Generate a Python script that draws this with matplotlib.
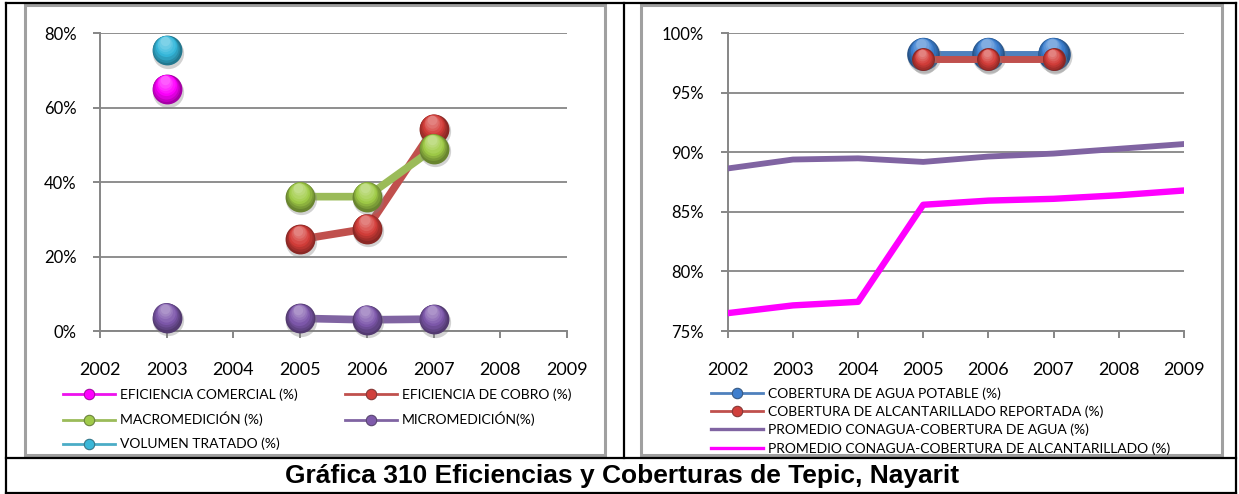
import numpy as np
import matplotlib
matplotlib.use("Agg")
import matplotlib.pyplot as plt
import matplotlib.colors as mcolors
from matplotlib.lines import Line2D
from matplotlib.patches import Rectangle
from matplotlib.transforms import offset_copy
from matplotlib.ticker import FuncFormatter
import colorsys

# ---------------- data ----------------
years = [2002, 2003, 2004, 2005, 2006, 2007, 2008, 2009]
nan = np.nan
# left chart (fractions)
eficiencia_comercial = [nan, 0.65, nan, nan, nan, nan, nan, nan]
eficiencia_cobro = [nan, nan, nan, 0.246, 0.275, 0.543, nan, nan]
macromedicion = [nan, nan, nan, 0.361, 0.361, 0.490, nan, nan]
micromedicion = [nan, 0.036, nan, 0.034, 0.030, 0.032, nan, nan]
volumen_tratado = [nan, 0.755, nan, nan, nan, nan, nan, nan]
left_labels = ["EFICIENCIA COMERCIAL (%)", "EFICIENCIA DE COBRO (%)",
               "MACROMEDICIÓN (%)", "MICROMEDICIÓN(%)", "VOLUMEN TRATADO (%)"]
left_yticks = [0.0, 0.2, 0.4, 0.6, 0.8]

# right chart (fractions)
cobertura_agua = [nan, nan, nan, 0.983, 0.983, 0.983, nan, nan]
cobertura_alcant = [nan, nan, nan, 0.978, 0.978, 0.978, nan, nan]
promedio_agua = [0.8865, 0.894, 0.895, 0.892, 0.8965, 0.899, 0.903, 0.907]
promedio_alcant = [0.765, 0.7715, 0.7745, 0.856, 0.8595, 0.861, 0.864, 0.868]
right_labels = ["COBERTURA DE AGUA POTABLE (%)",
                "COBERTURA DE ALCANTARILLADO REPORTADA (%)",
                "PROMEDIO CONAGUA-COBERTURA DE AGUA (%)",
                "PROMEDIO CONAGUA-COBERTURA DE ALCANTARILLADO (%)"]
right_yticks = [0.75, 0.80, 0.85, 0.90, 0.95, 1.00]

title = "Gráfica 310 Eficiencias y Coberturas de Tepic, Nayarit"

# ---------------- style ----------------
C_MAG = "#FF00FF"
C_RED = "#C0504D"
C_GRN = "#9BBB59"
C_PUR = "#8064A2"
C_CYN = "#4BACC6"
C_BLU = "#4F81BD"
GRAY = "#868686"
TICKFONT = "Lato"

W, H = 1239, 494
fig = plt.figure(figsize=(W / 100, H / 100), dpi=100)


def fx(px):
    return px / W


def fy(py):
    return 1 - py / H


def mix(c1, c2, t):
    a = np.array(mcolors.to_rgb(c1))
    b = np.array(mcolors.to_rgb(c2))
    return tuple(np.clip(a * (1 - t) + b * t, 0, 1))


def saturate(c, f):
    h, l, s = colorsys.rgb_to_hls(*mcolors.to_rgb(c))
    return colorsys.hls_to_rgb(h, l, min(1, s * f))


def sphere(ax, xs, ys, color, ms, z):
    xs = np.asarray(xs, float)
    ys = np.asarray(ys, float)
    body = saturate(color, 1.35)
    shadow = offset_copy(ax.transData, fig=fig, x=1.0, y=-2.5, units="dots")
    ax.plot(xs, ys, "o", ms=ms + 1, color="#808080", alpha=0.35, mec="none",
            transform=shadow, zorder=z, clip_on=False)
    ax.plot(xs, ys, "o", ms=ms, color=mix(body, "black", 0.35), mec="none",
            zorder=z + 0.01, clip_on=False)
    n = 8
    for i in range(1, n):
        t = i / n
        size = ms * (1 - 0.78 * t)
        dy = ms * 0.33 * t * 100 / 72
        tr = offset_copy(ax.transData, fig=fig, x=-0.2 * dy, y=dy, units="dots")
        if t < 0.4:
            col = mix(body, "black", 0.35 * (1 - t / 0.4))
        else:
            col = mix(body, "white", (t - 0.4) * 0.75)
        ax.plot(xs, ys, "o", ms=size, color=col, mec="none", transform=tr,
                zorder=z + 0.02 * i, clip_on=False)


def setup_axes(ax, ylim, yticks):
    ax.set_xlim(2002, 2009)
    ax.set_ylim(*ylim)
    ax.set_xticks(years)
    ax.set_yticks(yticks)
    ax.yaxis.set_major_formatter(FuncFormatter(lambda v, p: f"{v * 100:.0f}%"))
    for s in ["top", "right"]:
        ax.spines[s].set_visible(False)
    for s in ["left", "bottom"]:
        ax.spines[s].set_color(GRAY)
        ax.spines[s].set_linewidth(1.4)
    ax.grid(axis="y", color=GRAY, lw=1.3)
    ax.set_axisbelow(True)
    ax.tick_params(axis="x", direction="out", length=5, width=1.4, color=GRAY,
                   pad=17, labelsize=13)
    ax.tick_params(axis="y", direction="out", length=5, width=1.4, color=GRAY,
                   pad=12, labelsize=12)
    for lab in ax.get_xticklabels() + ax.get_yticklabels():
        lab.set_fontfamily(TICKFONT)
    ax.patch.set_alpha(0)


# ---------------- left chart ----------------
axL = fig.add_axes([fx(100), fy(331), fx(467), 297.7 / H])
setup_axes(axL, (0, 0.8), left_yticks)
axL.plot(years, eficiencia_cobro, color=C_RED, lw=5.5, zorder=3, solid_capstyle="butt")
axL.plot(years, macromedicion, color=C_GRN, lw=5.5, zorder=3, solid_capstyle="butt")
axL.plot(years, micromedicion, color=C_PUR, lw=5.5, zorder=3, solid_capstyle="butt")
sphere(axL, years, eficiencia_cobro, C_RED, 21.5, 4)
sphere(axL, years, macromedicion, C_GRN, 21.5, 5)
sphere(axL, years, micromedicion, C_PUR, 21.5, 5)
sphere(axL, years, eficiencia_comercial, "#EE11EE", 21.5, 5)
sphere(axL, years, volumen_tratado, C_CYN, 21.5, 5)

# ---------------- right chart ----------------
axR = fig.add_axes([fx(727.8), fy(331), fx(456), 297.7 / H])
setup_axes(axR, (0.75, 1.0), right_yticks)
axR.plot(years, promedio_agua, color=C_PUR, lw=4.2, zorder=3)
axR.plot(years, promedio_alcant, color=C_MAG, lw=4.6, zorder=3)
axR.plot(years, cobertura_agua, color=C_BLU, lw=5, zorder=4, clip_on=False)
sphere(axR, years, cobertura_agua, C_BLU, 23.5, 5)
axR.plot(years, cobertura_alcant, color=C_RED, lw=5, zorder=6, clip_on=False)
sphere(axR, years, cobertura_alcant, C_RED, 16.5, 7)

# ---------------- legends ----------------
def handle(color, marker=True):
    if marker:
        return Line2D([], [], color=color, lw=2.0, marker="o", ms=7.5,
                      mfc=saturate(color, 1.3), mec=mix(color, "black", 0.3), mew=0.8)
    return Line2D([], [], color=color, lw=2.4)


LEGSIZE = 10
hL = [handle("#EE11EE"), handle(C_RED), handle(C_GRN), handle(C_PUR), handle(C_CYN)]
order = [0, 2, 4, 1, 3]
legL = fig.legend([hL[i] for i in order], [left_labels[i] for i in order],
                  ncol=2, loc="upper left", bbox_to_anchor=(fx(63), fy(388)),
                  frameon=False, borderpad=0, borderaxespad=0,
                  handlelength=3.75, handletextpad=0.36, columnspacing=3.4,
                  labelspacing=0.82, prop={"family": TICKFONT, "size": LEGSIZE})

hR = [handle(C_BLU), handle(C_RED), handle(C_PUR, False), handle(C_MAG, False)]
legR = fig.legend(hR, right_labels, ncol=1, loc="upper left",
                  bbox_to_anchor=(fx(711), fy(387)), frameon=False,
                  borderpad=0, borderaxespad=0, handlelength=3.75,
                  handletextpad=0.36, labelspacing=0.42,
                  prop={"family": TICKFONT, "size": LEGSIZE})

# ---------------- frames ----------------
def rect(x0, y0, x1, y1, color, lw):
    fig.add_artist(Rectangle((fx(x0), fy(y1)), fx(x1 - x0), (y1 - y0) / H,
                             fill=False, ec=color, lw=lw, transform=fig.transFigure))


def hline(y, x0, x1, color, lw):
    fig.add_artist(Line2D([fx(x0), fx(x1)], [fy(y), fy(y)], color=color, lw=lw,
                          transform=fig.transFigure))


def vline(x, y0, y1, color, lw):
    fig.add_artist(Line2D([fx(x), fx(x)], [fy(y0), fy(y1)], color=color, lw=lw,
                          transform=fig.transFigure))


rect(24.5, 5, 604.5, 455, "#A0A0A0", 2.2)
rect(641, 5, 1222, 455, "#A0A0A0", 2.2)
hline(3, 6, 1236, "black", 1.6)
hline(458, 6, 1236, "black", 1.6)
hline(492.5, 6, 1236, "black", 1.6)
vline(6, 3, 492.5, "black", 1.6)
vline(1236, 3, 492.5, "black", 1.6)
vline(624, 3, 458, "black", 1.6)

fig.text(fx(622), fy(476), title, ha="center", va="center",
         fontfamily="Liberation Sans", fontweight="bold", fontsize=19)

fig.savefig("out.png", dpi=100)
